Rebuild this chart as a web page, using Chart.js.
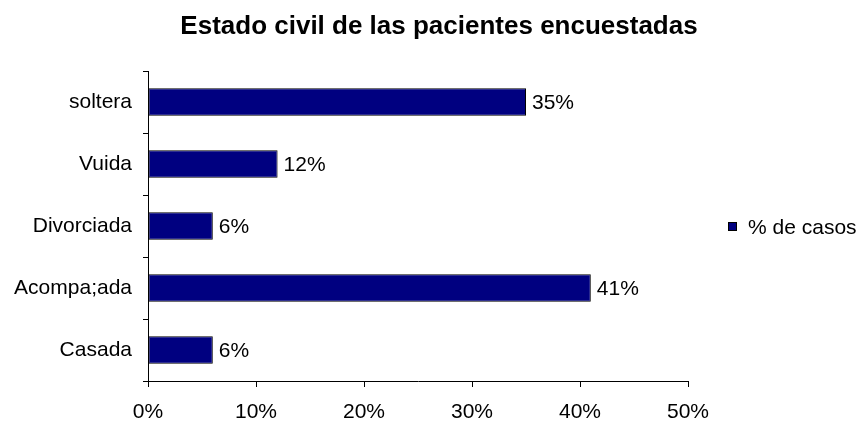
<!DOCTYPE html>
<html>
<head>
<meta charset="utf-8">
<script src="https://cdn.jsdelivr.net/npm/chart.js@4/dist/chart.umd.min.js"></script>
<style>
  html, body { margin: 0; padding: 0; background: #fff; }
  #wrap { width: 860px; height: 422px; }
</style>
</head>
<body>
<div id="wrap"><canvas id="grafico" width="860" height="422"></canvas></div>
<script>
var titulo = 'Estado civil de las pacientes encuestadas';
var categorias = ['soltera', 'Vuida', 'Divorciada', 'Acompa;ada', 'Casada'];
var porcentajes = [35, 12, 6, 41, 6];
var serieNombre = '% de casos';
var ticksX = [0, 10, 20, 30, 40, 50];

var fuente = 'Liberation Sans, Arial, sans-serif';

// etiqueta con el valor al final de cada barra
var etiquetasValor = {
    id: 'etiquetasValor',
    afterDatasetsDraw: function (chart) {
        var ctx = chart.ctx;
        var meta = chart.getDatasetMeta(0);
        ctx.save();
        ctx.font = '21px ' + fuente;
        ctx.fillStyle = '#000';
        ctx.textAlign = 'left';
        ctx.textBaseline = 'middle';
        meta.data.forEach(function (barra, i) {
            ctx.fillText(porcentajes[i] + '%', barra.x + 6, barra.y + 1);
        });
        ctx.restore();
    }
};

// titulo y leyenda dibujados a mano
var tituloLeyenda = {
    id: 'tituloLeyenda',
    afterDraw: function (chart) {
        var ctx = chart.ctx;
        ctx.save();
        ctx.fillStyle = '#000';
        ctx.font = 'bold 26px ' + fuente;
        ctx.textAlign = 'center';
        ctx.textBaseline = 'middle';
        ctx.fillText(titulo, 439, 27);

        var ds = chart.data.datasets[0];
        ctx.fillStyle = ds.backgroundColor;
        ctx.fillRect(728, 222, 9, 9);
        ctx.strokeStyle = '#000';
        ctx.lineWidth = 1;
        ctx.strokeRect(728.5, 222.5, 8, 8);
        ctx.fillStyle = '#000';
        ctx.font = '21px ' + fuente;
        ctx.textAlign = 'left';
        ctx.fillText(ds.label, 748, 228);
        ctx.restore();
    }
};

var ctx = document.getElementById('grafico');
var chart = new Chart(ctx, {
    type: 'bar',
    data: {
        labels: categorias,
        datasets: [{
            label: serieNombre,
            data: porcentajes,
            backgroundColor: '#000080',
            borderColor: '#000',
            borderWidth: 1,
            borderSkipped: false,
            categoryPercentage: 1,
            barPercentage: 0.44
        }]
    },
    options: {
        indexAxis: 'y',
        responsive: false,
        animation: false,
        layout: { padding: { top: 71, right: 172, bottom: 0, left: 0 } },
        plugins: {
            legend: { display: false },
            title: { display: false },
            tooltip: { enabled: false }
        },
        scales: {
            x: {
                min: 0,
                max: 50,
                afterBuildTicks: function (eje) {
                    eje.ticks = ticksX.map(function (v) { return { value: v }; });
                },
                afterFit: function (eje) { eje.height = 41; },
                grid: { drawOnChartArea: false, tickLength: 6, color: '#000' },
                border: { color: '#000', width: 1 },
                ticks: {
                    padding: 13,
                    color: '#000',
                    font: { family: fuente, size: 21 },
                    maxRotation: 0,
                    callback: function (v) { return v + '%'; }
                }
            },
            y: {
                afterFit: function (eje) { eje.width = 148; },
                grid: { drawOnChartArea: false, tickLength: 5, color: '#000', offset: true },
                border: { color: '#000', width: 1 },
                ticks: {
                    padding: 11,
                    color: '#000',
                    font: { family: fuente, size: 21 }
                }
            }
        }
    },
    plugins: [etiquetasValor, tituloLeyenda]
});
</script>
</body>
</html>
